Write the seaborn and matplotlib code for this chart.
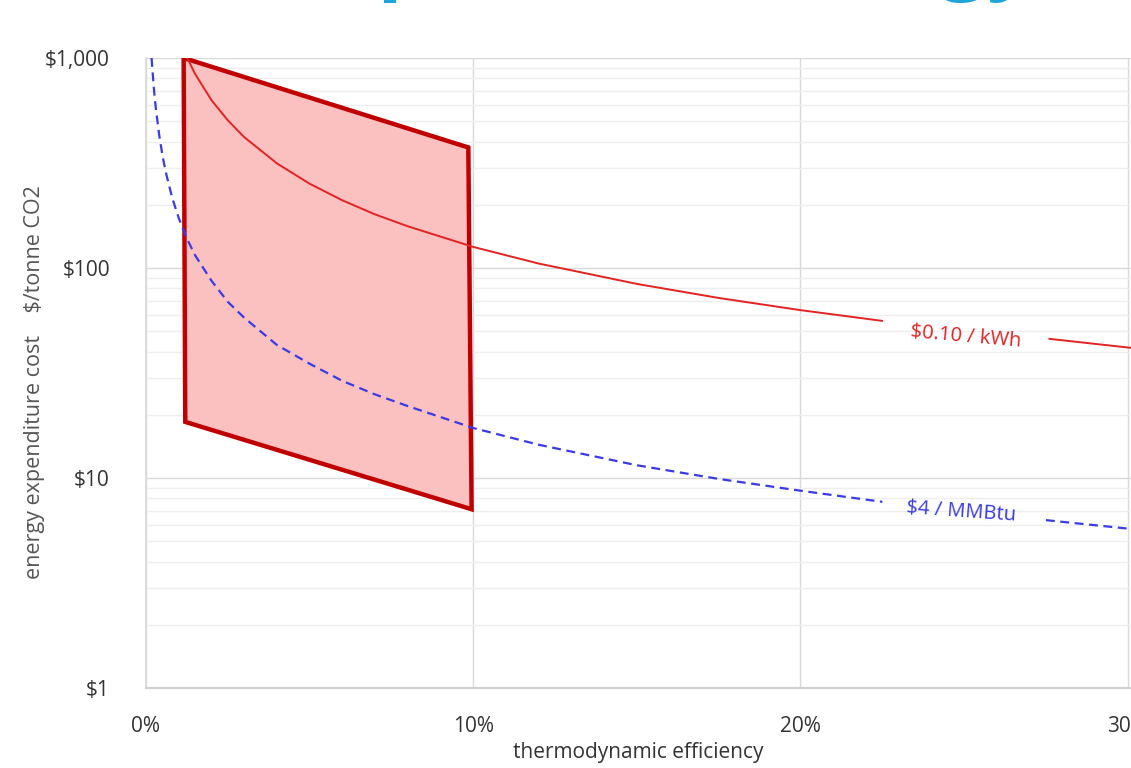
import numpy as np
import pandas as pd
import matplotlib
matplotlib.use("Agg")
import matplotlib.pyplot as plt
import matplotlib.ticker as mticker
import seaborn as sns

# efficiency (%) and cost ($/tonne CO2)
eff_left = [1.26, 1.5, 2, 2.5, 3, 4, 5, 6, 7, 8, 10, 12, 15, 17.5, 20, 22.5]
kwh_left = [1000, 840, 630, 505, 420, 315, 252, 210, 180, 158, 126, 105, 84, 72, 63, 56]
eff_right = [27.6, 30.2]
kwh_right = [46, 41.5]

gas_eff_left = [0.17, 0.2, 0.25, 0.3, 0.4, 0.5, 0.6, 0.8, 1.0, 1.25, 1.5, 2, 2.5, 3, 4, 5,
                6, 7, 8, 10, 12, 15, 17.5, 20, 22.5]
gas_left = [1000, 865, 690, 577, 433, 346, 288, 216, 173, 138, 115, 87, 69, 58, 43, 35,
            29, 25, 22, 17.3, 14.4, 11.5, 9.9, 8.7, 7.7]
gas_eff_right = [27.5, 30.2]
gas_right = [6.3, 5.7]

# shaded region corners
box_eff = [1.15, 9.85, 9.95, 1.2]
box_cost = [1000, 375, 7.1, 18.5]

x_ticks = [0, 10, 20, 30]
y_ticks = [1, 10, 100, 1000]

sns.set_theme(style="white")
plt.rcParams['font.family'] = ['Open Sans', 'DejaVu Sans']

fig = plt.figure(figsize=(11.31, 7.68), dpi=100)
ax = fig.add_axes([146 / 1131, 1 - 688 / 768, 1 - 146 / 1131, 630 / 768])

ax.fill(box_eff, box_cost, facecolor="#fbc0c0", edgecolor="#c00000", linewidth=3.2,
        joinstyle="miter", zorder=2)

red = "#e32222"
blue = "#3a3ae6"
sns.lineplot(x=eff_left, y=kwh_left, ax=ax, color=red, linewidth=1.4, zorder=3)
sns.lineplot(x=eff_right, y=kwh_right, ax=ax, color=red, linewidth=1.4, zorder=3)
sns.lineplot(x=gas_eff_left, y=gas_left, ax=ax, color=blue, linewidth=1.6, zorder=3)
ax.lines[-1].set_dashes([4, 2.5])
sns.lineplot(x=gas_eff_right, y=gas_right, ax=ax, color=blue, linewidth=1.6, zorder=3)
ax.lines[-1].set_dashes([4, 2.5])

ax.text(25.05, 47.5, "$0.10 / kWh", color=red, fontsize=14.5, rotation=-5,
        ha="center", va="center")
ax.text(24.9, 6.95, "$4 / MMBtu", color=blue, fontsize=14.5, rotation=-4,
        ha="center", va="center")

ax.set_yscale("log")
ax.set_xlim(0, 30.1)
ax.set_ylim(1, 1000)
ax.set_xticks(x_ticks)
ax.set_xticklabels([f"{t}%" for t in x_ticks])
ax.set_yticks(y_ticks)
ax.set_yticklabels([f"${t:,}" for t in y_ticks])
ax.yaxis.set_minor_locator(mticker.LogLocator(base=10, subs=np.arange(2, 10)))
ax.yaxis.set_minor_formatter(mticker.NullFormatter())

ax.grid(True, which="major", axis="both", color="#d9d9d9", linewidth=1.0, zorder=0)
ax.grid(True, which="minor", axis="y", color="#eeeeee", linewidth=1.0, zorder=0)
ax.set_axisbelow(True)
ax.tick_params(axis="both", which="both", length=0, colors="#333333", labelsize=15)
ax.tick_params(axis="y", pad=26)
ax.tick_params(axis="x", pad=20)

for side in ["top", "right"]:
    ax.spines[side].set_visible(False)
ax.spines["left"].set_color("#d9d9d9")
ax.spines["bottom"].set_color("#d0d0d0")
ax.spines["bottom"].set_linewidth(1.5)

ax.set_xlabel("thermodynamic efficiency", fontsize=15, color="#333333", labelpad=4)
ax.set_ylabel("")
fig.text(35 / 1131, 1 - 382 / 768, "energy expenditure cost    $/tonne CO2", rotation=90,
         fontsize=15.5, color="#555555", ha="center", va="center")

# heading of the source slide, cropped at the top edge
fig.text(274 / 1131, 1 + 17 / 768, "Capture", fontsize=60, color="#1ea6d8",
         fontweight="bold", ha="left", va="baseline")
fig.text(1035 / 1131, 1 + 17 / 768, "energy", fontsize=60, color="#1ea6d8",
         fontweight="bold", ha="right", va="baseline")

fig.savefig("out.png", dpi=100)
